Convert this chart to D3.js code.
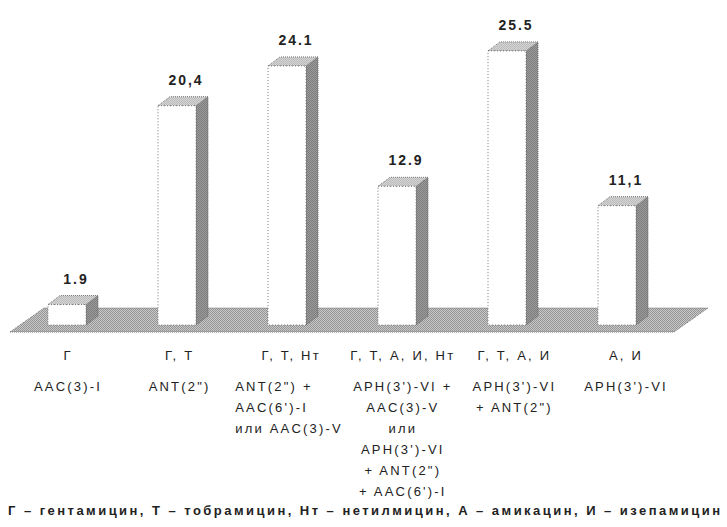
<!DOCTYPE html>
<html>
<head>
<meta charset="utf-8">
<script src="https://cdn.jsdelivr.net/npm/d3@7"></script>
<style>
  html, body { margin: 0; padding: 0; background: #fff; }
  svg { display: block; }
</style>
</head>
<body>
<script>
// Resistance phenotypes (antibiotics) and share of isolates, %
const categories = ["Г", "Г, Т", "Г, Т, Нт", "Г, Т, А, И, Нт", "Г, Т, А, И", "А, И"];
const values = [1.9, 20.4, 24.1, 12.9, 25.5, 11.1];
const decimalMarks = [".", ",", ".", ".", ".", ","];

// Aminoglycoside-modifying enzymes behind each phenotype
const enzymes = [
  ["AAC(3)-I"],
  ["ANT(2\")"],
  ["ANT(2\") +", "AAC(6')-I", "или AAC(3)-V"],
  ["APH(3')-VI +", "AAC(3)-V", "или", "APH(3')-VI", "+ ANT(2\")", "+ AAC(6')-I"],
  ["APH(3')-VI", "+ ANT(2\")"],
  ["APH(3')-VI"]
];
const leftAlignedGroups = ["Г, Т, Нт"];

const footnote = "Г – гентамицин, Т – тобрамицин, Нт – нетилмицин, А – амикацин, И – изепамицин";

const W = 727, H = 527;
const svg = d3.select("body").append("svg").attr("width", W).attr("height", H);

// Patterns imitating the dithered greys of the 3D fills
const defs = svg.append("defs");
function checker(id, a, b) {
  const p = defs.append("pattern").attr("id", id)
    .attr("width", 2).attr("height", 2).attr("patternUnits", "userSpaceOnUse");
  p.append("rect").attr("width", 2).attr("height", 2).attr("fill", a);
  p.append("rect").attr("width", 1).attr("height", 1).attr("fill", b);
  p.append("rect").attr("x", 1).attr("y", 1).attr("width", 1).attr("height", 1).attr("fill", b);
}
checker("floorFill", "#c8c8c8", "#959595");
checker("sideFill", "#9a9a9a", "#7e7e7e");
checker("topFill", "#d4d4d4", "#bcbcbc");

const y = d3.scaleLinear().domain([0, 30]).range([325, 2.5]);
const xBar = d3.scalePoint().domain(categories).range([67, 617]);
const xLabel = d3.scalePoint().domain(categories).range([68, 626]);

const barW = 38, depthX = 12, depthY = 9;
const y0 = y(0);

// Floor plane
const floorFront = y0 + 7, floorBack = y0 - 17;
svg.append("polygon")
  .attr("points", [[10, floorFront], [674, floorFront], [708, floorBack], [44, floorBack]].map(p => p.join(",")).join(" "))
  .attr("fill", "url(#floorFill)")
  .attr("stroke", "#777").attr("stroke-width", 1).attr("stroke-dasharray", "1,1");

// 3D bars
const bars = svg.append("g").selectAll("g").data(categories).join("g");
bars.each(function (c, i) {
  const g = d3.select(this);
  const xl = xBar(c) - barW / 2, xr = xl + barW;
  const yt = y(values[i]);
  g.append("polygon")
    .attr("points", [[xr, yt], [xr + depthX, yt - depthY], [xr + depthX, y0 - depthY], [xr, y0]].map(p => p.join(",")).join(" "))
    .attr("fill", "url(#sideFill)").attr("stroke", "#666").attr("stroke-width", 1).attr("stroke-dasharray", "1,1");
  g.append("polygon")
    .attr("points", [[xl, yt], [xl + depthX, yt - depthY], [xr + depthX, yt - depthY], [xr, yt]].map(p => p.join(",")).join(" "))
    .attr("fill", "url(#topFill)").attr("stroke", "#777").attr("stroke-width", 1).attr("stroke-dasharray", "1,1");
  g.append("rect")
    .attr("x", xl).attr("y", yt).attr("width", barW).attr("height", y0 - yt)
    .attr("fill", "#fff").attr("stroke", "#777").attr("stroke-width", 1).attr("stroke-dasharray", "1,2");
  g.append("text")
    .attr("x", xBar(c) + 9).attr("y", yt - 21)
    .attr("text-anchor", "middle")
    .attr("font-family", "Liberation Sans, Arial, sans-serif")
    .attr("font-size", 14).attr("font-weight", "bold").attr("letter-spacing", 2)
    .attr("fill", "#222")
    .text(values[i].toFixed(1).replace(".", decimalMarks[i]));
});

// Category and enzyme labels under the floor
const labels = svg.append("g")
  .attr("font-family", "Liberation Sans, Arial, sans-serif")
  .attr("font-size", 13).attr("letter-spacing", 2.2).attr("fill", "#222");
categories.forEach((c, i) => {
  labels.append("text")
    .attr("x", xLabel(c)).attr("y", 360)
    .attr("text-anchor", "middle").text(c);
  const left = leftAlignedGroups.includes(c);
  enzymes[i].forEach((line, j) => {
    labels.append("text")
      .attr("x", left ? xLabel(c) - 56 : xLabel(c))
      .attr("y", 391 + j * 21)
      .attr("text-anchor", left ? "start" : "middle")
      .text(line);
  });
});

// Legend line with antibiotic abbreviations
svg.append("text")
  .attr("x", 8).attr("y", 515)
  .attr("font-family", "Liberation Sans, Arial, sans-serif")
  .attr("font-size", 13).attr("font-weight", "bold").attr("fill", "#222")
  .attr("textLength", 712).attr("lengthAdjust", "spacing")
  .text(footnote);
</script>
</body>
</html>
